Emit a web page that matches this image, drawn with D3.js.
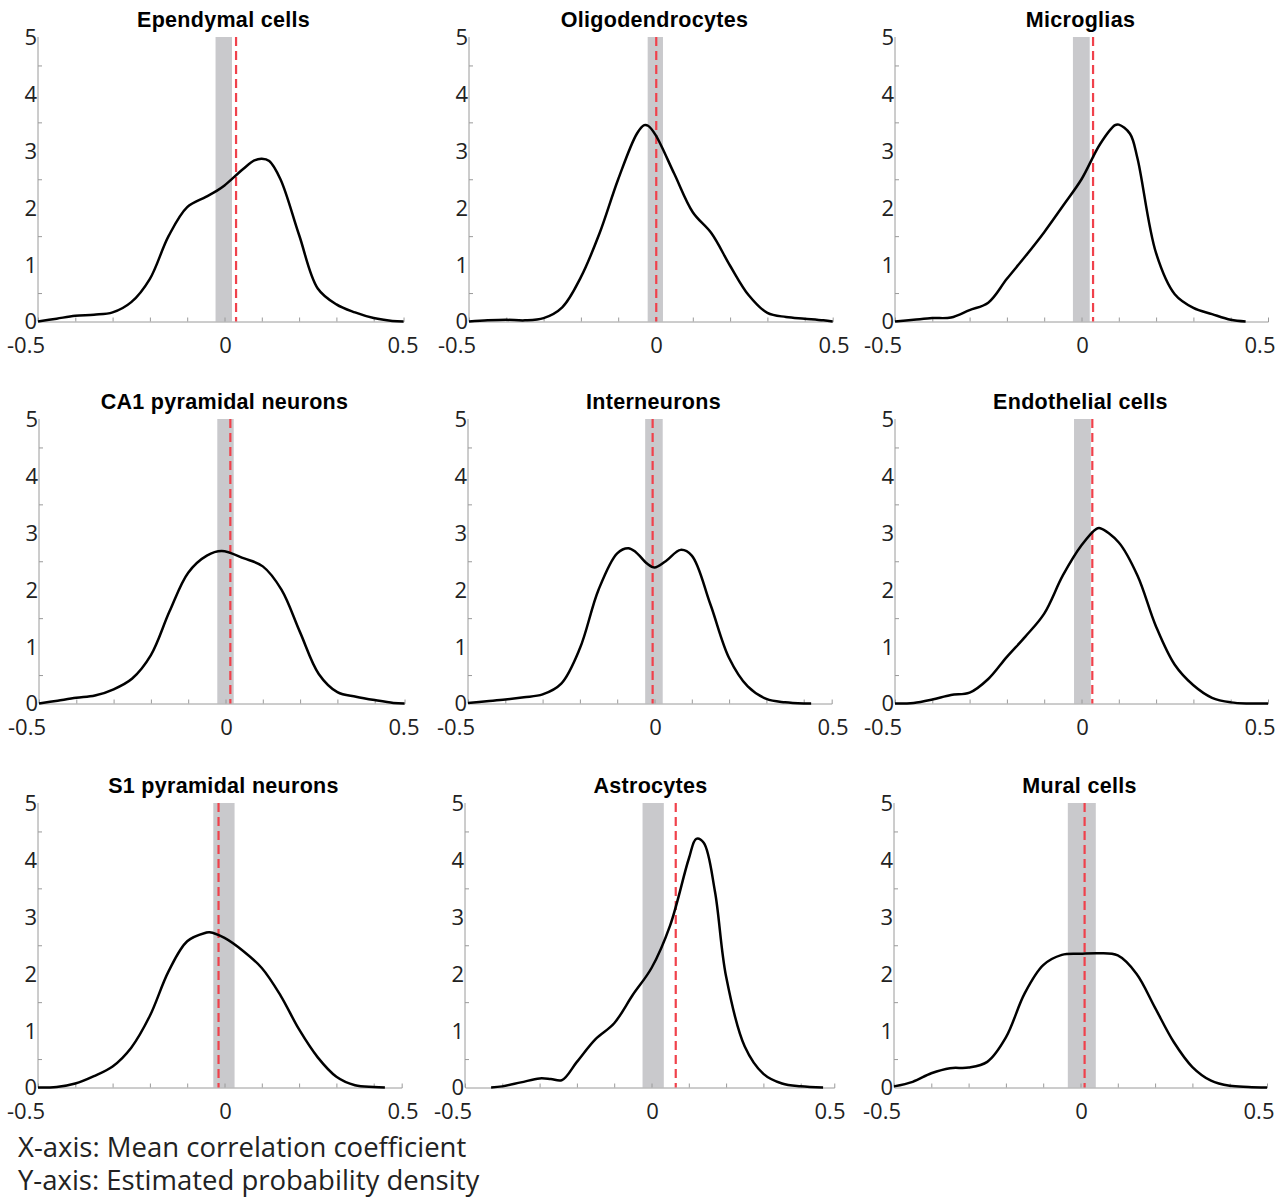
<!DOCTYPE html>
<html>
<head>
<meta charset="utf-8">
<script src="https://cdn.jsdelivr.net/npm/d3@7"></script>
<style>
  body { margin: 0; background: #fff; }
  svg { display: block; }
</style>
</head>
<body>
<svg id="chart" width="1282" height="1203"></svg>
<script>
// panel titles, in reading order
var titles = ["Ependymal cells", "Oligodendrocytes", "Microglias",
              "CA1 pyramidal neurons", "Interneurons", "Endothelial cells",
              "S1 pyramidal neurons", "Astrocytes", "Mural cells"];

// density curves, [correlation, density]
var ependymal = [[-0.5,0],[-0.45,0.05],[-0.4,0.1],[-0.35,0.12],[-0.3,0.16],[-0.25,0.34],[-0.2,0.75],[-0.15,1.5],[-0.1,2.01],[-0.05,2.19],[-0.02,2.3],[0,2.39],[0.05,2.68],[0.08,2.83],[0.1,2.86],[0.12,2.82],[0.15,2.5],[0.2,1.52],[0.25,0.58],[0.3,0.3],[0.35,0.16],[0.4,0.06],[0.45,0.01],[0.48,0]];
var oligo = [[-0.5,0],[-0.45,0.02],[-0.4,0.03],[-0.35,0.02],[-0.3,0.06],[-0.25,0.25],[-0.2,0.78],[-0.15,1.55],[-0.1,2.5],[-0.05,3.3],[-0.03,3.45],[-0.02,3.44],[0,3.28],[0.05,2.6],[0.1,1.92],[0.15,1.55],[0.2,0.98],[0.25,0.46],[0.3,0.15],[0.35,0.08],[0.4,0.05],[0.45,0.02],[0.475,0]];
var microglia = [[-0.5,0],[-0.45,0.03],[-0.4,0.06],[-0.35,0.07],[-0.3,0.2],[-0.25,0.33],[-0.2,0.75],[-0.15,1.15],[-0.1,1.57],[-0.05,2.03],[0,2.5],[0.05,3.12],[0.09,3.45],[0.1,3.46],[0.13,3.3],[0.15,2.87],[0.2,1.2],[0.25,0.48],[0.3,0.24],[0.35,0.13],[0.4,0.03],[0.44,0]];
var ca1 = [[-0.5,0],[-0.45,0.05],[-0.4,0.1],[-0.35,0.14],[-0.3,0.25],[-0.25,0.44],[-0.2,0.85],[-0.15,1.62],[-0.1,2.3],[-0.05,2.6],[-0.01,2.68],[0.05,2.55],[0.1,2.41],[0.15,2.0],[0.2,1.25],[0.25,0.52],[0.3,0.2],[0.35,0.12],[0.4,0.06],[0.45,0.01],[0.48,0]];
var interneurons = [[-0.5,0.01],[-0.45,0.04],[-0.4,0.07],[-0.35,0.11],[-0.3,0.16],[-0.25,0.35],[-0.2,0.97],[-0.15,2.0],[-0.1,2.64],[-0.07,2.73],[-0.05,2.66],[-0.02,2.46],[0,2.39],[0.03,2.5],[0.07,2.7],[0.1,2.6],[0.15,1.74],[0.2,0.8],[0.25,0.3],[0.3,0.08],[0.35,0.02],[0.4,0],[0.42,0]];
var endothelial = [[-0.5,0],[-0.45,0.01],[-0.4,0.07],[-0.35,0.15],[-0.3,0.19],[-0.25,0.43],[-0.2,0.82],[-0.15,1.18],[-0.1,1.58],[-0.05,2.25],[0,2.78],[0.04,3.07],[0.05,3.08],[0.1,2.83],[0.15,2.25],[0.2,1.35],[0.25,0.68],[0.3,0.32],[0.35,0.1],[0.4,0.02],[0.45,0],[0.5,0]];
var s1 = [[-0.5,0],[-0.45,0.01],[-0.4,0.07],[-0.35,0.2],[-0.3,0.37],[-0.25,0.7],[-0.2,1.26],[-0.15,2.04],[-0.1,2.57],[-0.05,2.72],[-0.04,2.73],[0,2.63],[0.05,2.4],[0.1,2.1],[0.15,1.62],[0.2,1.02],[0.25,0.53],[0.3,0.19],[0.35,0.04],[0.4,0.01],[0.43,0]];
var astro = [[-0.43,0],[-0.4,0.02],[-0.35,0.09],[-0.3,0.16],[-0.27,0.15],[-0.24,0.13],[-0.2,0.45],[-0.15,0.85],[-0.1,1.13],[-0.05,1.63],[0,2.1],[0.05,2.85],[0.1,4.02],[0.12,4.37],[0.14,4.3],[0.17,3.45],[0.2,1.95],[0.25,0.72],[0.3,0.24],[0.35,0.07],[0.4,0.02],[0.46,0]];
var mural = [[-0.5,0.02],[-0.45,0.1],[-0.4,0.25],[-0.35,0.34],[-0.3,0.35],[-0.25,0.45],[-0.2,0.88],[-0.15,1.65],[-0.1,2.15],[-0.05,2.33],[0,2.35],[0.05,2.36],[0.1,2.32],[0.15,2.0],[0.2,1.4],[0.25,0.8],[0.3,0.36],[0.35,0.12],[0.4,0.03],[0.45,0.01],[0.5,0]];
var curves = [ependymal, oligo, microglia, ca1, interneurons, endothelial, s1, astro, mural];

// shaded band (low, high) and dashed red line for each panel
var bandLo = [-0.024, -0.021, -0.023, -0.022, -0.025, -0.020, -0.030, -0.024, -0.034];
var bandHi = [0.020, 0.020, 0.022, 0.022, 0.022, 0.025, 0.027, 0.033, 0.041];
var redLine = [0.031, 0.002, 0.031, 0.013, -0.005, 0.029, -0.016, 0.065, 0.011];
var xMax = [0.48, 0.475, 0.5, 0.48, 0.475, 0.5, 0.475, 0.49, 0.5];

var yTicks = [0, 1, 2, 3, 4, 5];
var yMinor = d3.range(0.5, 5, 1);
var xMinor = [-0.4, -0.3, -0.2, -0.1, 0, 0.1, 0.2, 0.3, 0.4];
var xLabels = [-0.5, 0, 0.5];
var xLabelText = ["-0.5", "0", "0.5"];
var xLabelShift = [-12, 1, -8];

var svg = d3.select("#chart");
// left edge of each panel's axes
var panelLeft = [38, 469, 895, 39, 468, 895, 38, 465, 894],
    rowTop = [37, 419, 803],
    plotH = 284.5,
    unitPx = 373;

var tickFont = "'Open Sans', 'Noto Sans', sans-serif";

titles.forEach(function (title, i) {
    var row = Math.floor(i / 3);
    var left = panelLeft[i], top = rowTop[row];
    var x = d3.scaleLinear().domain([-0.5, xMax[i]]).range([left, left + unitPx * (xMax[i] + 0.5)]);
    var y = d3.scaleLinear().domain([0, 5]).range([top + plotH, top]);
    var g = svg.append("g").attr("class", "panel");

    // grey band
    g.append("rect")
        .attr("x", x(bandLo[i]))
        .attr("y", y(5))
        .attr("width", x(bandHi[i]) - x(bandLo[i]))
        .attr("height", y(0) - y(5))
        .attr("fill", "#c9c9cc");

    // axes
    var xAxis = d3.axisTop(x).tickValues(xMinor).tickSize(4).tickFormat("");
    g.append("g").attr("transform", "translate(0," + y(0) + ")").call(xAxis)
        .call(function (a) { a.selectAll("line,path").attr("stroke", "#9a9a9a"); });

    var yAxis = d3.axisRight(y).tickValues(yMinor).tickSize(4).tickFormat("");
    g.append("g").attr("transform", "translate(" + x(-0.5) + ",0)").call(yAxis)
        .call(function (a) {
            a.select(".domain").remove();
            a.selectAll("line").attr("stroke", "#9a9a9a");
        });
    g.append("line")
        .attr("x1", x(-0.5)).attr("x2", x(-0.5))
        .attr("y1", y(0)).attr("y2", y(5))
        .attr("stroke", "#9a9a9a");

    // red dashed line
    g.append("line")
        .attr("x1", x(redLine[i])).attr("x2", x(redLine[i]))
        .attr("y1", y(5)).attr("y2", y(0))
        .attr("stroke", "#f0414b")
        .attr("stroke-width", 2.2)
        .attr("stroke-dasharray", "9,5");

    // density curve
    var line = d3.line()
        .x(function (d) { return x(d[0]); })
        .y(function (d) { return y(Math.max(0, d[1])); })
        .curve(d3.curveCatmullRom.alpha(0.5));
    g.append("path")
        .datum(curves[i])
        .attr("d", line)
        .attr("fill", "none")
        .attr("stroke", "#000")
        .attr("stroke-width", 2.5)
        .attr("stroke-linejoin", "round");

    // tick labels
    g.selectAll(".ylab").data(yTicks).enter().append("text")
        .attr("class", "ylab")
        .attr("x", x(-0.5) - 1)
        .attr("y", function (d) { return y(d); })
        .attr("dy", "0.36em")
        .attr("text-anchor", "end")
        .attr("font-family", tickFont)
        .attr("font-size", 22)
        .attr("fill", "#222")
        .text(function (d) { return d; });

    g.selectAll(".xlab").data(xLabels).enter().append("text")
        .attr("class", "xlab")
        .attr("x", function (d, k) { return x(d) + xLabelShift[k]; })
        .attr("y", y(0) + 31)
        .attr("text-anchor", "middle")
        .attr("font-family", tickFont)
        .attr("font-size", 22)
        .attr("fill", "#222")
        .text(function (d, k) { return xLabelText[k]; });

    // title
    g.append("text")
        .attr("x", x(0) - 1)
        .attr("y", top - 10)
        .attr("text-anchor", "middle")
        .attr("font-family", "'Liberation Sans', Arial, sans-serif")
        .attr("font-weight", "bold")
        .attr("font-size", 21.5)
        .attr("letter-spacing", 0.3)
        .attr("fill", "#000")
        .text(title);
});

var notes = ["X-axis: Mean correlation coefficient", "Y-axis: Estimated probability density"];
svg.selectAll(".note").data(notes).enter().append("text")
    .attr("class", "note")
    .attr("x", 18)
    .attr("y", function (d, i) { return 1157 + i * 33; })
    .attr("font-family", tickFont)
    .attr("font-size", 27.5)
    .attr("fill", "#222")
    .text(function (d) { return d; });
</script>
</body>
</html>
